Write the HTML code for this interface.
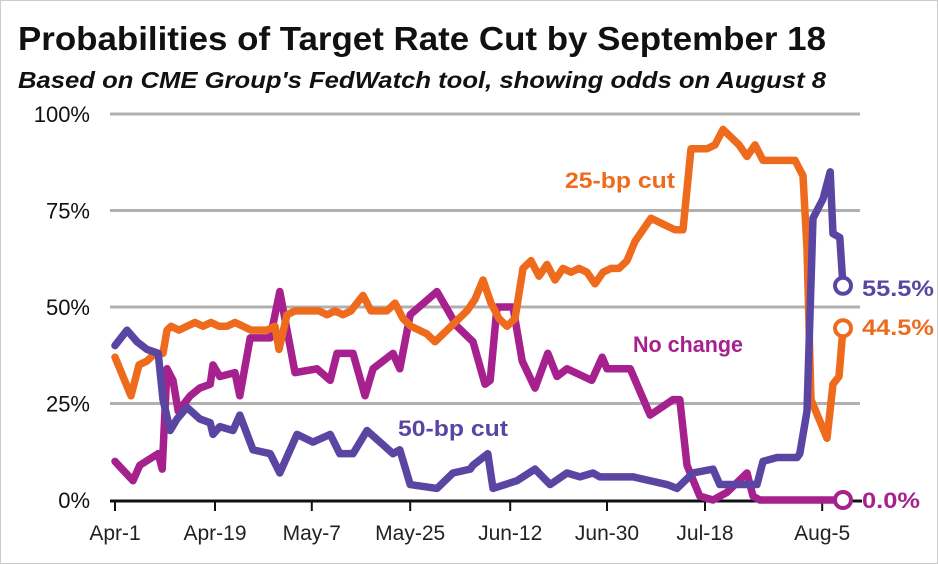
<!DOCTYPE html>
<html><head><meta charset="utf-8"><style>
body{margin:0;background:#fff;}
svg{display:block;font-family:"Liberation Sans",sans-serif;}
</style></head><body>
<svg id="chart" width="938" height="564" viewBox="0 0 938 564">
<rect x="0.5" y="0.5" width="937" height="563" fill="#fff" stroke="#ccc"/>
<text x="18" y="50" font-size="33" font-weight="bold" fill="#111" textLength="808" lengthAdjust="spacingAndGlyphs">Probabilities of Target Rate Cut by September 18</text>
<text x="18" y="88" font-size="23" font-weight="bold" font-style="italic" fill="#111" textLength="808" lengthAdjust="spacingAndGlyphs">Based on CME Group's FedWatch tool, showing odds on August 8</text>
<g id="grid"></g><g id="series"></g><g id="labels"></g>
</svg>
<script>
const yTicks=[0,25,50,75,100];
const yTickLabels=["0%","25%","50%","75%","100%"];
const xTickDays=[0,12.5,24.6,36.9,49.4,61.5,73.75,88.4];
const xTickLabels=["Apr-1","Apr-19","May-7","May-25","Jun-12","Jun-30","Jul-18","Aug-5"];
const cut25Days=[0,1,2,3,4,5,6,6.5,7,8,9,10,11,12,13,14,15,16,17,18,19,20,20.5,21.5,22.5,23.5,24.5,25.5,26.5,27.5,28.5,29.5,31,32,33,34,35,36,37,38,39,40,41,42,43,44,45,46,47,48,49,50,51,52,53,54,55,56,57,58,59,60,61,62,63,64,65,66,67,68,69,70,71,72,73,74,75,76,77,78,79,80,81,82,83,84,85,85.5,86,86.5,87,88,89,89.75,90.5,91];
const cut25Vals=[37,32,27,35,36,38,38,44,45,44,45,46,45,46,45,45,46,45,44,44,44,45,39,48,49,49,49,49,48,49,48,49,53,49,49,49,51,47,45,44,43,41,43,45,47,49,52,57,51,47,45,47,60,62,58,61,57,60,59,60,59,56,59,60,60,62,67,70,73,72,71,70,70,91,91,91,92,96,94,92,89,92,88,88,88,88,88,86,84,65,26,21,16,30,32,44.5];
const cut50Days=[0,1.5,2.75,4,5.4,6,6.9,7.75,9,10.6,11.9,12.25,13.1,14.75,15.6,17.25,19.4,20.6,22.75,24.75,26.9,28.1,29.75,31.5,34.75,35.6,36.9,40.25,42.25,44.4,44.75,46.6,47.25,50.25,52.5,54.4,56.5,58.1,59.75,60.6,64.75,69,70.25,72.25,74.75,75.6,80.25,81,82.75,85.25,85.6,86.5,87.25,88.5,89.4,89.75,90.6,91];
const cut50Vals=[40,44,41,39,38,26,18,21,24,21,20,17,19,18,22,13,12,7,17,15,17,12,12,18,12,13,4,3,7,8,9,12,3,5,8,4,7,6,7,6,6,4,3,7,8,4,4,10,11,11,12,23,73,78,85,69,68,55.5];
const noChangeDays=[0,2.25,3.1,5.4,5.9,6.5,7.25,7.9,9.4,10.6,11.9,12.25,13.1,15,15.6,16.9,19.4,20.6,22.5,25.25,26.9,27.75,29.75,31.25,32.25,34.75,35.6,36.9,40.25,42.75,44.75,46.25,46.9,47.75,49.75,50.9,52.5,54.1,55.25,56.5,59.6,60.9,61.5,64.4,66.9,69.75,70.6,71.5,73.1,74.75,76.5,79,79.75,80.6,91];
const noChangeVals=[10,5,9,12,8,34,31,23,27,29,30,35,32,33,27,42,42,54,33,34,31,38,38,27,34,38,34,48,54,45,41,30,31,50,50,36,29,38,32,34,31,37,34,34,22,26,26,9,1,0,2,7,1,0,0];

const NS="http://www.w3.org/2000/svg";
const X0=115,X1=843,D0=0,D1=91,Y0=500,Y1=114;
const xs=d=>X0+(d-D0)/(D1-D0)*(X1-X0);
const ys=v=>Y0-v/100*(Y0-Y1);
function mk(tag,attrs,parent,txt){const e=document.createElementNS(NS,tag);for(const k in attrs)e.setAttribute(k,attrs[k]);if(txt!==undefined)e.textContent=txt;parent.appendChild(e);return e;}
const grid=document.getElementById('grid'),ser=document.getElementById('series'),lab=document.getElementById('labels');
yTicks.forEach((t,i)=>{
  if(t>0){const g=mk('line',{x1:110,x2:860,y1:ys(t),y2:ys(t),stroke:'#b0b0b0','stroke-width':3},grid);
  
  }
  const tx=mk('text',{x:90,y:ys(t)+8,'font-size':22,fill:'#111','text-anchor':'end'},grid,yTickLabels[i]);
  
  
});
const ax=mk('line',{x1:110,x2:862,y1:Y0+1,y2:Y0+1,stroke:'#111','stroke-width':3},grid);


xTickDays.forEach((d,i)=>{
  const tk=mk('line',{x1:xs(d),x2:xs(d),y1:Y0,y2:Y0+11,stroke:'#111','stroke-width':2},grid);
  
  
  const tl=mk('text',{x:xs(d),y:540,'font-size':21,fill:'#222','text-anchor':'middle'},grid,xTickLabels[i]);
  
  
});
function line(days,vals,color,name){
  const p=mk('polyline',{points:days.map((d,i)=>xs(d)+','+ys(vals[i])).join(' '),fill:'none',stroke:color,'stroke-width':7.5,'stroke-linejoin':'round','stroke-linecap':'round'},ser);
  
  
}
function dot(days,vals,color,name){
  const n=days.length-1;
  const c=mk('circle',{cx:xs(days[n]),cy:ys(vals[n]),r:8,fill:'#fff',stroke:color,'stroke-width':4},ser);
  
  
}
const OR='#ee6b1e',PU='#5b45a3',MA='#a7218e';
line(noChangeDays,noChangeVals,MA,'no-change');
line(cut25Days,cut25Vals,OR,'cut-25bp');
line(cut50Days,cut50Vals,PU,'cut-50bp');
dot(noChangeDays,noChangeVals,MA,'no-change');
dot(cut25Days,cut25Vals,OR,'cut-25bp');
dot(cut50Days,cut50Vals,PU,'cut-50bp');
function lbl(x,y,t,c,name,w){const e=mk('text',{x:x,y:y,'font-size':22,'font-weight':'bold',fill:c,textLength:w,lengthAdjust:'spacingAndGlyphs'},lab,t);
  
  }
lbl(565,188,'25-bp cut',OR,'label-25bp-cut',110);
lbl(633,352,'No change',MA,'label-no-change',110);
lbl(398,436,'50-bp cut',PU,'label-50bp-cut',110);
lbl(862,296,cut50Vals[cut50Vals.length-1].toFixed(1)+'%',PU,'end-value-50bp',72);
lbl(862,335,cut25Vals[cut25Vals.length-1].toFixed(1)+'%',OR,'end-value-25bp',72);
lbl(862,508,noChangeVals[noChangeVals.length-1].toFixed(1)+'%',MA,'end-value-no-change',58);
</script>
</body></html>
